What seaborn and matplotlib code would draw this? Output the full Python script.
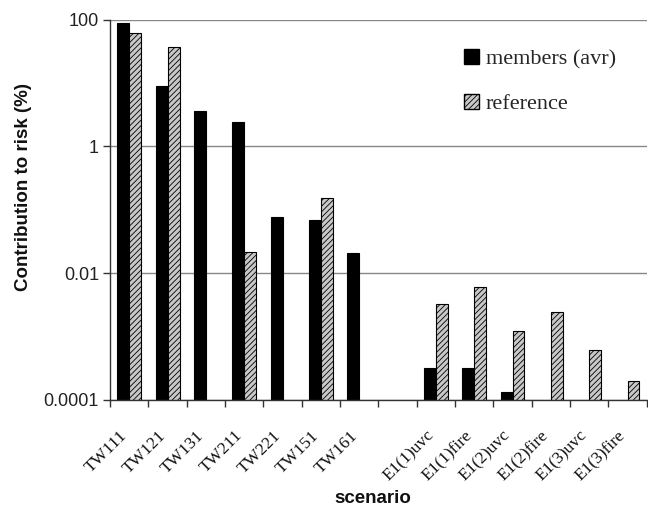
import numpy as np
import pandas as pd
import matplotlib
matplotlib.use("Agg")
import matplotlib.pyplot as plt
import matplotlib.transforms as mtransforms
import seaborn as sns
from matplotlib.patches import Patch

categories = ["TW111", "TW121", "TW131", "TW211", "TW221", "TW151", "TW161", " ",
              "E1(1)uvc", "E1(1)fire", "E1(2)uvc", "E1(2)fire", "E1(3)uvc", "E1(3)fire"]
members = [90, 9.0, 3.6, 2.4, 0.078, 0.069, 0.021, None,
           0.00032, 0.00032, 0.000132, None, None, None]
reference = [62, 37, None, 0.0216, None, 0.155, None, None,
             0.0032, 0.006, 0.00123, 0.00245, 0.00062, 0.0002]
series = ["members (avr)", "reference"]

rows = []
for c, m, r in zip(categories, members, reference):
    if m is not None:
        rows.append({"scenario": c, "value": m, "series": series[0]})
    if r is not None:
        rows.append({"scenario": c, "value": r, "series": series[1]})
df = pd.DataFrame(rows)

sns.set_theme(style="white")
plt.rcParams["hatch.color"] = "#333333"
plt.rcParams["hatch.linewidth"] = 0.6

fig = plt.figure(figsize=(6.48, 5.08), dpi=100)
ax = fig.add_axes([0.170, 0.213, 0.828, 0.748])
ax.set_yscale("log")

sns.barplot(data=df, x="scenario", y="value", hue="series", order=categories,
            hue_order=series, palette=["black", "#c8c8c8"], width=0.62,
            edgecolor="black", linewidth=0.8, errorbar=None, legend=False, ax=ax,
            dodge=True)

for p in ax.patches:
    if p.get_facecolor()[0] > 0.5:
        p.set_hatch("//////")

ax.set_ylim(1e-4, 100)
ax.set_xlim(-0.5, len(categories) - 0.5)

yt = [1e-4, 1e-2, 1, 100]
ax.yaxis.set_major_locator(matplotlib.ticker.FixedLocator(yt))
ax.yaxis.set_minor_locator(matplotlib.ticker.NullLocator())
ax.set_yticklabels(["0.0001", "0.01", "1", "100"], fontsize=13,
                   family="Liberation Sans", color="#222222")
ax.yaxis.grid(True, color="#888888", linewidth=1.0)
ax.set_axisbelow(True)
ax.tick_params(axis="y", which="major", left=True, length=5, width=1, color="#333333", pad=3)

# x ticks: marks at boundaries, labels at centers
ax.xaxis.set_major_locator(matplotlib.ticker.FixedLocator(np.arange(-0.5, len(categories), 1.0)))
ax.xaxis.set_major_formatter(matplotlib.ticker.NullFormatter())
ax.xaxis.set_minor_locator(matplotlib.ticker.FixedLocator(np.arange(len(categories))))
ax.xaxis.set_minor_formatter(matplotlib.ticker.FixedFormatter(categories))
ax.tick_params(axis="x", which="major", bottom=True, length=5, width=1, color="#333333")
ax.tick_params(axis="x", which="minor", bottom=True, length=0, pad=20)
offset = mtransforms.ScaledTranslation(-10 / 100, 0, fig.dpi_scale_trans)
for lab in ax.get_xticklabels(minor=True):
    lab.set_rotation(45)
    lab.set_ha("right")
    lab.set_rotation_mode("anchor")
    lab.set_fontsize(12.5)
    lab.set_family("Liberation Serif")
    lab.set_color("#111111")
    lab.set_transform(lab.get_transform() + offset)

for s in ["top", "right"]:
    ax.spines[s].set_visible(False)
for s in ["left", "bottom"]:
    ax.spines[s].set_color("#333333")
    ax.spines[s].set_linewidth(1.0)

ax.set_xlabel("scenario", fontsize=13.5, fontweight="bold", family="Liberation Sans",
              color="#111111")
ax.xaxis.set_label_coords(0.49, -0.238)
ax.set_ylabel("Contribution to risk (%)", fontsize=13.5, fontweight="bold",
              family="Liberation Sans", color="#111111")
ax.yaxis.set_label_coords(-0.145, 0.56)

handles = [Patch(facecolor="black", edgecolor="black"),
           Patch(facecolor="#c8c8c8", edgecolor="black", hatch="//////")]
ax.legend(handles, series, loc="upper left", bbox_to_anchor=(0.623, 0.975), frameon=False,
          prop={"family": "Liberation Serif", "size": 16}, handlelength=0.65,
          handleheight=0.65, handletextpad=0.3, labelspacing=1.1)

fig.savefig("out.png", dpi=100)
